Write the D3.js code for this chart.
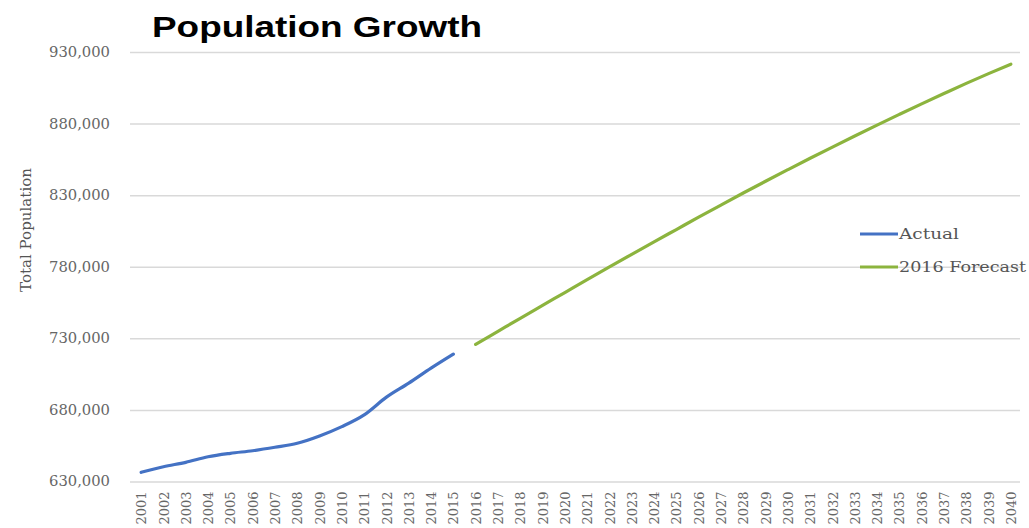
<!DOCTYPE html>
<html>
<head>
<meta charset="utf-8">
<script src="https://cdn.jsdelivr.net/npm/d3@7"></script>
<style>
    body { margin: 0; background: #fff; }
    #chart { width: 1029px; height: 528px; }
</style>
</head>
<body>
<div id="chart"></div>
<script>
// categories, one per year
var years = ['2001', '2002', '2003', '2004', '2005', '2006', '2007', '2008', '2009', '2010',
             '2011', '2012', '2013', '2014', '2015', '2016', '2017', '2018', '2019', '2020',
             '2021', '2022', '2023', '2024', '2025', '2026', '2027', '2028', '2029', '2030',
             '2031', '2032', '2033', '2034', '2035', '2036', '2037', '2038', '2039', '2040'];

// Actual, 2001 - 2015
var actualYears = years.slice(0, 15);
var actual = [636400, 640300, 643400, 647300, 649700, 651500, 653900, 656700, 661800, 668300,
              676500, 688900, 698700, 709200, 719000];

// 2016 Forecast, 2016 - 2040
var forecastYears = years.slice(15);
var forecast = [725800, 734900, 744000, 753000, 762000, 771000, 779900, 788700, 797400, 806000,
                814600, 823100, 831500, 839700, 847800, 855800, 863600, 871300, 878900, 886400,
                893800, 901000, 908100, 914900, 921500];

var yTicks = [630000, 680000, 730000, 780000, 830000, 880000, 930000];

var seriesNames = ['Actual', '2016 Forecast'];
var seriesColors = ['#4472c4', '#8cb43e'];

(function() {
    'use strict';

    var width = 1029, height = 528;
    var left = 130, right = 1022, top = 52, bottom = 481.5;
    var serif = '"DejaVu Serif", "Liberation Serif", serif';

    var svg = d3.select('#chart')
      .append('svg')
        .attr('width', width)
        .attr('height', height);

    svg.append('rect')
        .attr('width', width)
        .attr('height', height)
        .attr('fill', 'white');

    var x = d3.scalePoint()
        .domain(years)
        .range([left, right])
        .padding(0.5);

    var y = d3.scaleLinear()
        .domain([630000, 930000])
        .range([bottom, top]);

    // y axis + gridlines
    var yAxis = svg.append('g')
        .attr('transform', 'translate(' + left + ',0)')
        .call(d3.axisLeft(y)
            .tickValues(yTicks)
            .tickSize(-(right - left - 2))
            .tickPadding(20)
            .tickFormat(d3.format(',')));
    yAxis.select('.domain').remove();
    yAxis.selectAll('.tick line')
        .attr('stroke', '#d9d9d9')
        .attr('stroke-width', 1.5);
    yAxis.selectAll('.tick text')
        .attr('fill', '#666')
        .attr('font-family', serif)
        .attr('font-size', 14)
        .attr('textLength', 61)
        .attr('lengthAdjust', 'spacingAndGlyphs');

    // x axis, rotated labels
    var xAxis = svg.append('g')
        .attr('transform', 'translate(0,' + bottom + ')')
        .call(d3.axisBottom(x).tickSize(0).tickPadding(0));
    xAxis.select('.domain').remove();
    xAxis.selectAll('.tick text')
        .attr('fill', '#666')
        .attr('font-family', serif)
        .attr('font-size', 13)
        .attr('text-anchor', 'end')
        .attr('y', 0)
        .attr('dy', '0.35em')
        .attr('transform', 'translate(0,10) rotate(-90)');

    // axis title
    svg.append('text')
        .attr('transform', 'translate(31,230) rotate(-90)')
        .attr('text-anchor', 'middle')
        .attr('fill', '#555')
        .attr('font-family', serif)
        .attr('font-size', 14)
        .attr('textLength', 124)
        .attr('lengthAdjust', 'spacingAndGlyphs')
        .text('Total Population');

    var line = d3.line()
        .x(function(d) { return x(d[0]); })
        .y(function(d) { return y(d[1]); })
        .curve(d3.curveMonotoneX);

    var series = [d3.zip(actualYears, actual), d3.zip(forecastYears, forecast)];

    svg.selectAll('path.series')
        .data(series)
      .enter().append('path')
        .attr('class', 'series')
        .attr('fill', 'none')
        .attr('stroke', function(d, i) { return seriesColors[i]; })
        .attr('stroke-width', 3.2)
        .attr('stroke-linecap', 'round')
        .attr('stroke-linejoin', 'round')
        .attr('d', line);

    // legend
    var legendLen = [60, 127];
    var lg = svg.selectAll('g.legend')
        .data(seriesNames)
      .enter().append('g')
        .attr('class', 'legend')
        .attr('transform', function(d, i) { return 'translate(860,' + (234 + i * 33) + ')'; });
    lg.append('line')
        .attr('x1', 0)
        .attr('x2', 38)
        .attr('stroke', function(d, i) { return seriesColors[i]; })
        .attr('stroke-width', 3);
    lg.append('text')
        .attr('x', 39)
        .attr('dy', '0.35em')
        .attr('fill', '#555')
        .attr('font-family', serif)
        .attr('font-size', 15)
        .attr('textLength', function(d, i) { return legendLen[i]; })
        .attr('lengthAdjust', 'spacingAndGlyphs')
        .text(function(d) { return d; });

    // title
    svg.append('text')
        .attr('x', 152)
        .attr('y', 37)
        .attr('font-family', '"Liberation Sans", Arial, sans-serif')
        .attr('font-weight', 'bold')
        .attr('font-size', 30)
        .attr('textLength', 330)
        .attr('lengthAdjust', 'spacingAndGlyphs')
        .text('Population Growth');
}());
</script>
</body>
</html>
